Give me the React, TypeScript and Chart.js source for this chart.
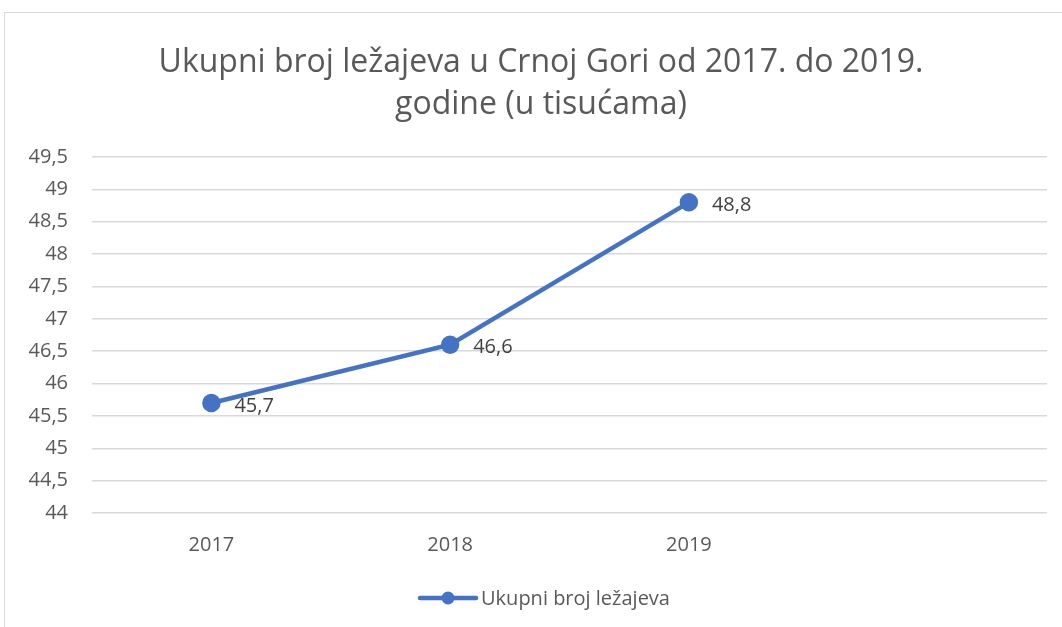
import React, { useEffect, useRef } from "react";
import { Chart, registerables } from "chart.js";

Chart.register(...registerables);

const categories = ["2017", "2018", "2019", ""];
const seriesName = "Ukupni broj ležajeva";
const values: (number | null)[] = [45.7, 46.6, 48.8, null];
const titleLines = ["Ukupni broj ležajeva u Crnoj Gori od 2017. do 2019.", "godine (u tisućama)"];
const yMin = 44;
const yMax = 49.5;
const yStep = 0.5;

const FONT = "'Open Sans', Lato, sans-serif";
const LINE_COLOR = "#4472C4";

const fmt = (v: number) => String(v).replace(".", ",");

const titlePlugin = {
  id: "customTitle",
  afterDraw(chart: any) {
    const ctx = chart.ctx;
    ctx.save();
    ctx.font = `32px ${FONT}`;
    ctx.fillStyle = "#595959";
    ctx.textAlign = "center";
    ctx.textBaseline = "middle";
    const cx = 541;
    titleLines.forEach((line, i) => {
      ctx.fillText(line, cx, 63 + i * 41.6);
    });
    ctx.restore();
  },
};

const dataLabelPlugin = {
  id: "dataLabels",
  afterDatasetsDraw(chart: any) {
    const ctx = chart.ctx;
    const meta = chart.getDatasetMeta(0);
    ctx.save();
    ctx.font = `20px ${FONT}`;
    ctx.fillStyle = "#404040";
    ctx.textAlign = "left";
    ctx.textBaseline = "middle";
    meta.data.forEach((pt: any, i: number) => {
      const v = values[i];
      if (v == null) return;
      ctx.fillText(fmt(v), pt.x + 23, pt.y + 3);
    });
    ctx.restore();
  },
};

const legendPlugin = {
  id: "customLegend",
  afterDraw(chart: any) {
    const ctx = chart.ctx;
    const cy = 598;
    const text = seriesName;
    ctx.save();
    ctx.font = `20px ${FONT}`;
    const tw = ctx.measureText(text).width;
    const lineW = 56;
    const gap = 5;
    const total = lineW + gap + tw;
    const x0 = 545 - total / 2;
    ctx.strokeStyle = LINE_COLOR;
    ctx.lineWidth = 4.5;
    ctx.lineCap = "round";
    ctx.beginPath();
    ctx.moveTo(x0, cy);
    ctx.lineTo(x0 + lineW, cy);
    ctx.stroke();
    ctx.fillStyle = LINE_COLOR;
    ctx.beginPath();
    ctx.arc(x0 + lineW / 2, cy, 6.5, 0, Math.PI * 2);
    ctx.fill();
    ctx.fillStyle = "#595959";
    ctx.textAlign = "left";
    ctx.textBaseline = "middle";
    ctx.fillText(text, x0 + lineW + gap, cy + 1);
    ctx.restore();
  },
};

export default function App() {
  const ref = useRef<HTMLCanvasElement>(null);
  useEffect(() => {
    if (!ref.current) return;
    const chart = new Chart(ref.current, {
      type: "line",
      data: {
        labels: categories,
        datasets: [
          {
            label: seriesName,
            data: values,
            borderColor: LINE_COLOR,
            backgroundColor: LINE_COLOR,
            borderWidth: 4.5,
            pointRadius: 7,
            pointHoverRadius: 7,
            pointBackgroundColor: LINE_COLOR,
            pointBorderColor: LINE_COLOR,
            tension: 0,
          },
        ],
      },
      options: {
        animation: false,
        responsive: false,
        maintainAspectRatio: false,
        layout: { padding: { top: 157, left: 4, right: 15, bottom: 48 } },
        plugins: {
          legend: { display: false },
          tooltip: { enabled: false },
          title: { display: false },
        },
        scales: {
          x: {
            offset: true,
            grid: { display: false, drawTicks: false },
            border: { display: false },
            ticks: { color: "#595959", font: { family: FONT, size: 20 }, padding: 20 },
            afterFit(scale: any) {
              scale.height = 66;
            },
          },
          y: {
            min: yMin,
            max: yMax,
            grid: { color: "#d9d9d9", lineWidth: 1.5, drawTicks: false },
            border: { display: false },
            ticks: {
              stepSize: yStep,
              color: "#595959",
              font: { family: FONT, size: 20 },
              padding: 24,
              callback: (v: any) => fmt(Number(v)),
            },
            afterFit(scale: any) {
              scale.width = 88;
            },
          },
        },
      },
      plugins: [titlePlugin, dataLabelPlugin, legendPlugin],
    });
    return () => chart.destroy();
  }, []);
  return (
    <div style={{ position: "fixed", left: 0, top: 0, width: 1062, height: 627, background: "#fff" }}>
      <div
        style={{
          position: "absolute",
          left: 4,
          top: 12,
          right: -10,
          bottom: -10,
          borderLeft: "1.5px solid #d9d9d9",
          borderTop: "1.5px solid #d9d9d9",
        }}
      />
      <canvas ref={ref} width={1062} height={627} style={{ position: "absolute", left: 0, top: 0 }} />
    </div>
  );
}
